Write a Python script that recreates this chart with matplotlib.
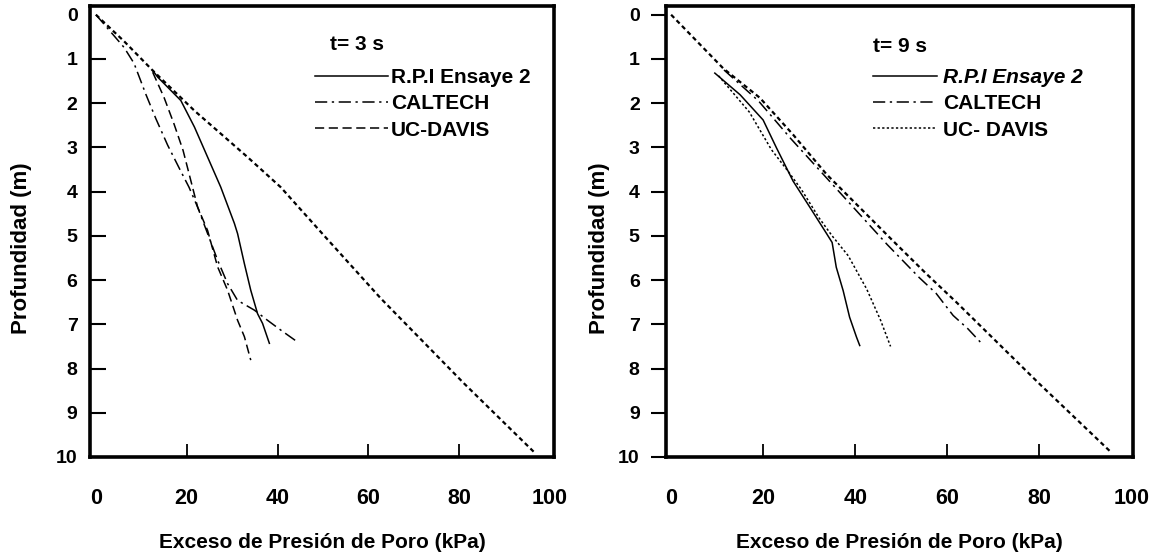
import matplotlib
matplotlib.use("Agg")
import matplotlib.pyplot as plt

plt.rcParams['font.family'] = ['Liberation Sans', 'DejaVu Sans']
plt.rcParams['font.weight'] = 'bold'

# ---- t = 3 s : exceso de presión de poro (kPa) vs profundidad (m) ----
lim3_kpa = [0, 6.2, 12.5, 21.7, 27.5, 33.4, 40.7, 50.3, 62.7, 81.1, 96.9]
lim3_z = [0, 0.6, 1.26, 2.17, 2.69, 3.22, 3.90, 5.0, 6.41, 8.34, 9.93]

rpi3_kpa = [12.5, 13.6, 18.7, 21.7, 24.6, 27.5, 30.5, 31.2, 32.7, 34.1, 35.6, 36.7, 38.2]
rpi3_z = [1.26, 1.41, 1.94, 2.54, 3.22, 3.90, 4.72, 4.95, 5.63, 6.23, 6.76, 6.98, 7.43]

caltech3_kpa = [0, 6.2, 8.4, 11.0, 13.2, 15.8, 18.5, 20.5, 22.4, 24.6, 26.8, 29.0, 31.2,
                34.9, 37.8, 40.7, 44.4]
caltech3_z = [0, 0.74, 1.1, 1.8, 2.35, 2.95, 3.5, 3.9, 4.35, 4.95, 5.55, 6.08, 6.46,
              6.68, 6.91, 7.13, 7.40]

ucdavis3_kpa = [12.5, 15.0, 17.2, 19.2, 20.9, 22.4, 24.6, 26.8, 29.0, 31.2, 32.7, 34.1]
ucdavis3_z = [1.3, 1.87, 2.47, 3.07, 3.75, 4.35, 4.88, 5.70, 6.23, 6.91, 7.28, 7.81]

# ---- t = 9 s ----
lim9_kpa = [0, 11.3, 19.3, 26.5, 33.8, 41.0, 48.2, 55.5, 62.0, 80.0, 95.7]
lim9_z = [0, 1.21, 1.88, 2.71, 3.61, 4.36, 5.11, 5.86, 6.50, 8.34, 9.90]

rpi9_kpa = [9.5, 15.0, 20.0, 22.9, 26.5, 30.2, 33.8, 35.0, 35.9, 37.4, 38.8, 40.3, 41.0]
rpi9_z = [1.32, 1.81, 2.38, 3.01, 3.76, 4.36, 4.95, 5.15, 5.71, 6.24, 6.84, 7.29, 7.48]

caltech9_kpa = [11.5, 19.0, 26.0, 33.0, 40.0, 47.0, 54.0, 57.6, 61.3, 64.5, 67.2]
caltech9_z = [1.25, 1.95, 2.8, 3.6, 4.4, 5.2, 5.95, 6.3, 6.8, 7.1, 7.4]

ucdavis9_kpa = [10.3, 17.0, 21.8, 25.5, 28.3, 32.2, 35.0, 38.5, 42.5, 45.5, 47.7]
ucdavis9_z = [1.38, 2.2, 3.05, 3.55, 3.95, 4.6, 5.0, 5.45, 6.2, 6.9, 7.5]

x_ticks = [0, 20, 40, 60, 80, 100]
y_ticks = list(range(0, 11))
series_names = ["R.P.I Ensaye 2", "CALTECH"]

fig = plt.figure(figsize=(11.63, 5.59), dpi=100)
ax1 = fig.add_axes([0.0774, 0.1825, 0.399, 0.807])
ax2 = fig.add_axes([0.5727, 0.1825, 0.4015, 0.807])

lim_style = dict(color="black", lw=1.6, linestyle=(0, (2.0, 1.5)))
rpi_style = dict(color="black", lw=1.1, linestyle="-")
cal_style = dict(color="black", lw=1.1, linestyle=(0, (8, 3, 1.5, 3)))


def setup(ax, xlim, ydir, ypad):
    ax.set_xlim(*xlim)
    ax.set_ylim(10.0, -0.2)
    ax.set_xticks(x_ticks)
    ax.set_yticks(y_ticks)
    for s in ax.spines.values():
        s.set_linewidth(2.6)
    ax.tick_params(axis="x", direction="in", length=9.5, width=1.3, pad=22,
                   labelsize=15.5)
    ylen = 11.5 if ydir == "in" else 11
    ax.tick_params(axis="y", direction=ydir, length=ylen, width=1.5, pad=ypad,
                   labelsize=14)
    # the end ticks sit on the frame corners
    for t in (ax.xaxis.get_major_ticks()[0], ax.xaxis.get_major_ticks()[-1]):
        t.tick1line.set_visible(False)
    if ydir == "in":
        for t in (ax.yaxis.get_major_ticks()[0], ax.yaxis.get_major_ticks()[-1]):
            t.tick1line.set_visible(False)
    ax.set_xlabel("Exceso de Presión de Poro (kPa)", fontsize=15, fontweight="bold")
    ax.set_ylabel("Profundidad (m)", fontsize=16, fontweight="bold")
    ax.xaxis.label.set_va("center")
    ax.yaxis.label.set_va("center")


# left panel, t = 3 s
setup(ax1, (-1.3, 100.9), "in", 9)
ax1.plot(lim3_kpa, lim3_z, **lim_style)
ax1.plot(rpi3_kpa, rpi3_z, label=series_names[0], **rpi_style)
ax1.plot(caltech3_kpa, caltech3_z, label=series_names[1], **cal_style)
ax1.plot(ucdavis3_kpa, ucdavis3_z, label="UC-DAVIS", color="black", lw=1.1,
         linestyle=(0, (6, 3)))
ax1.xaxis.set_label_coords(0.5, -0.19)
ax1.yaxis.set_label_coords(-0.1466, 0.463)
ax1.text(0.517, 0.9135, "t= 3 s", transform=ax1.transAxes, ha="left", va="center",
         fontsize=15, fontweight="bold")
leg1 = ax1.legend(loc="upper left", bbox_to_anchor=(0.485, 0.862), frameon=False,
                  borderpad=0, borderaxespad=0, handlelength=3.5,
                  handletextpad=0.15, labelspacing=0.35,
                  prop=dict(size=15, weight="bold"))

# right panel, t = 9 s
setup(ax2, (-1.1, 100.4), "out", 8)
ax2.plot(lim9_kpa, lim9_z, **lim_style)
ax2.plot(rpi9_kpa, rpi9_z, label=series_names[0], **rpi_style)
ax2.plot(caltech9_kpa, caltech9_z, label=series_names[1], **cal_style)
ax2.plot(ucdavis9_kpa, ucdavis9_z, label="UC- DAVIS", color="black", lw=1.1,
         linestyle=(0, (1.5, 1.5)))
ax2.xaxis.set_label_coords(0.5, -0.19)
ax2.yaxis.set_label_coords(-0.1435, 0.463)
ax2.text(0.443, 0.911, "t= 9 s", transform=ax2.transAxes, ha="left", va="center",
         fontsize=15, fontweight="bold")
leg2 = ax2.legend(loc="upper left", bbox_to_anchor=(0.443, 0.862), frameon=False,
                  borderpad=0, borderaxespad=0, handlelength=3.1,
                  handletextpad=0.25, labelspacing=0.35,
                  prop=dict(size=15, weight="bold"))
leg2.get_texts()[0].set_fontstyle("italic")

for ax in (ax1, ax2):
    for lab in ax.get_xticklabels() + ax.get_yticklabels():
        lab.set_fontweight("bold")

fig.savefig("out.png", dpi=100)
